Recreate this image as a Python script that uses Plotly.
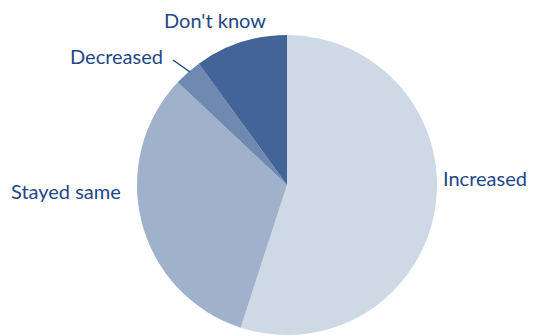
import plotly.graph_objects as go

labels = ["Increased", "Stayed same", "Decreased", "Don't know"]
values = [55, 32, 3, 10]
colors = ["#CFD9E5", "#A0B1CB", "#6F89B0", "#426496"]

OFF = 8  # page body margin offset
W, H = 536 - OFF, 336 - OFF
cx, cy, r = 287 - OFF, 185 - OFF, 150

fig = go.Figure(go.Pie(
    labels=labels, values=values, sort=False, direction="clockwise", rotation=0,
    marker=dict(colors=colors, line=dict(width=0)),
    textinfo="none", hoverinfo="label+percent", showlegend=False,
    domain=dict(x=[(cx - r) / W, (cx + r) / W], y=[(H - cy - r) / H, (H - cy + r) / H]),
))

txt = "#1F4788"
font = dict(family="Lato, Noto Sans, sans-serif", size=20, color=txt)
label_pos = {
    "Increased": (485, 178),
    "Stayed same": (66, 191),
    "Decreased": (116, 56),
    "Don't know": (215, 20),
}
for lab in labels:
    x, y = label_pos[lab]
    fig.add_annotation(x=(x - OFF) / W, y=1 - (y - OFF) / H, xref="paper", yref="paper", text=lab,
                       showarrow=False, font=font, xanchor="center", yanchor="middle")

fig.add_shape(type="line", xref="paper", yref="paper",
              x0=(173 - OFF) / W, y0=1 - (60 - OFF) / H, x1=(190 - OFF) / W, y1=1 - (72 - OFF) / H,
              line=dict(color=txt, width=1.5))

fig.update_layout(width=W, height=H, margin=dict(l=0, r=0, t=0, b=0),
                  paper_bgcolor="white", plot_bgcolor="white")
fig.write_html("out.html")
